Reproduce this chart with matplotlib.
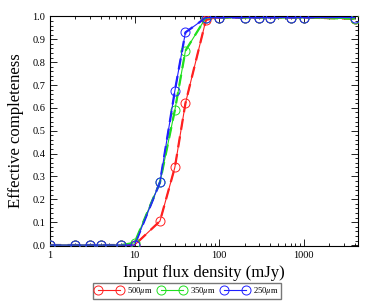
import numpy as np
import matplotlib
matplotlib.use("Agg")
import matplotlib.pyplot as plt
from matplotlib.ticker import MultipleLocator, LogLocator, FixedLocator, FixedFormatter, NullFormatter

# input flux densities (mJy)
flux = [1, 2, 3, 4, 7, 10, 20, 30, 40, 70, 100, 200, 300, 400, 700, 1000, 4000]

# effective completeness per band
comp_500 = [0.0, 0.0, 0.0, 0.0, 0.0, 0.0, 0.105, 0.34, 0.62, 0.985, 0.995, 0.995, 0.995, 0.995, 0.995, 0.995, 0.99]
comp_350 = [0.0, 0.0, 0.0, 0.0, 0.0, 0.01, 0.275, 0.59, 0.85, 0.995, 0.995, 0.995, 0.995, 0.995, 0.995, 0.995, 0.99]
comp_250 = [0.0, 0.0, 0.0, 0.0, 0.0, 0.0, 0.275, 0.675, 0.93, 0.995, 0.995, 0.995, 0.995, 0.995, 0.995, 0.995, 0.995]

bands = ["500$\\mu$m", "350$\\mu$m", "250$\\mu$m"]
colors = ["#ff2020", "#20e020", "#2020ff"]

plt.rcParams['font.family'] = ['Liberation Serif', 'DejaVu Serif']
plt.rcParams['mathtext.fontset'] = 'stix'

fig = plt.figure(figsize=(3.74, 3.03), dpi=100)
ax = fig.add_axes([50/374, 1 - 246/303, 308/374, 230.5/303])

for vals, lab, c in zip([comp_500, comp_350, comp_250], bands, colors):
    # thick dashed trace
    ax.plot(flux, vals, color=c, lw=1.6, ls=(0, (5, 3)), zorder=2)
    # thin line with open circles
    ax.plot(flux, vals, color=c, lw=0.8, marker="o", ms=6.5, mfc="none",
            mec=c, mew=0.7, label=lab, zorder=3)

ax.set_xscale("log")
ax.set_xlim(1, 4400)
ax.set_ylim(-0.004, 1.004)

ax.xaxis.set_major_locator(FixedLocator([1, 10, 100, 1000]))
ax.xaxis.set_major_formatter(FixedFormatter(["1", "10", "100", "1000"]))
ax.xaxis.set_minor_locator(LogLocator(base=10, subs=np.arange(2, 10)))
ax.xaxis.set_minor_formatter(NullFormatter())
ax.yaxis.set_major_locator(MultipleLocator(0.1))
ax.yaxis.set_minor_locator(MultipleLocator(0.02))
ax.yaxis.set_major_formatter(matplotlib.ticker.FormatStrFormatter("%.1f"))

ax.tick_params(which="both", direction="in", top=True, right=True, labelsize=7.5)
ax.tick_params(which="major", length=5, width=0.6)
ax.tick_params(which="minor", length=2.5, width=0.6)
for s in ax.spines.values():
    s.set_linewidth(0.8)

ax.set_xlabel("Input flux density (mJy)", fontsize=12, labelpad=4)
ax.set_ylabel("Effective completeness", fontsize=12, labelpad=6)

leg = fig.legend(loc="center", bbox_to_anchor=(187/374, 1 - 291/303), ncol=3,
                 numpoints=2, fontsize=6.2, frameon=True, fancybox=False,
                 edgecolor="#555555", handlelength=3.2, handletextpad=0.5,
                 columnspacing=0.6, borderpad=0.25)
leg.get_frame().set_linewidth(1.0)

fig.savefig("out.png", dpi=100)
